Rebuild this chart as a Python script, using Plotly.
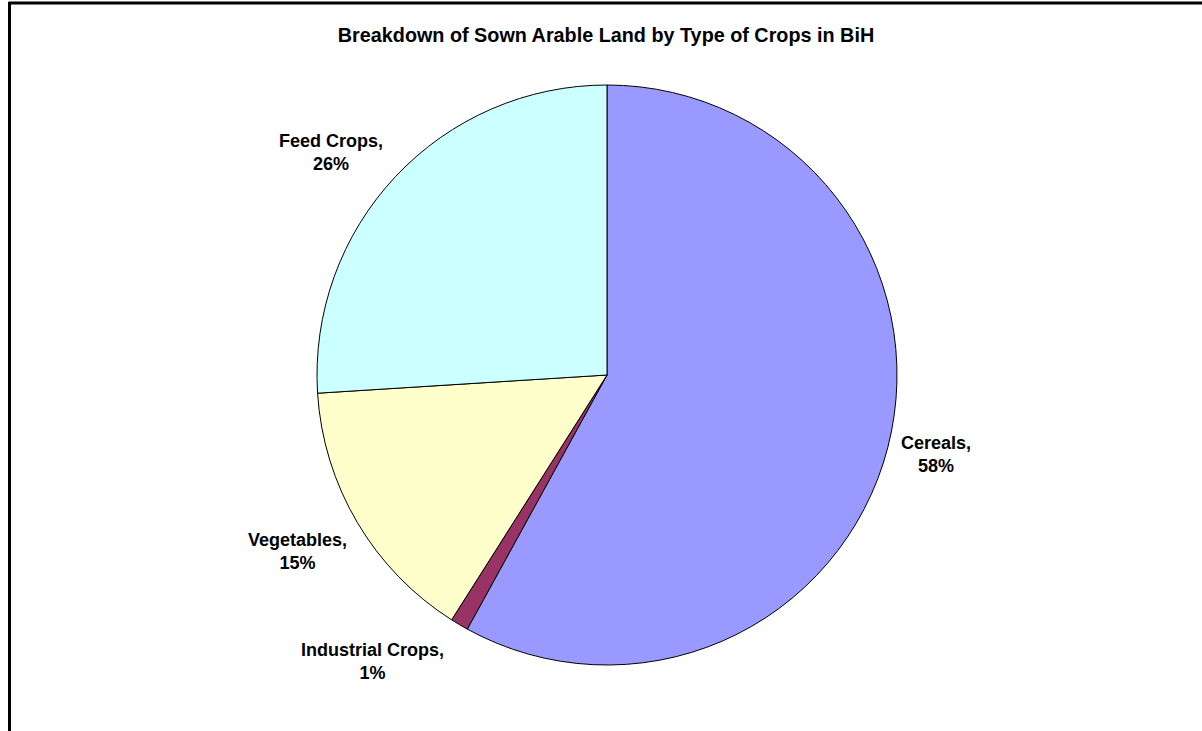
import math
import plotly.graph_objects as go

categories = ["Cereals", "Industrial Crops", "Vegetables", "Feed Crops"]
values = [58, 1, 15, 26]
colors = ["#9999FF", "#993366", "#FFFFCC", "#CCFFFF"]

# label placement styles (radial distance factor, pixel nudges: right, down)
label_radius = [1.173, 1.26, 1.229, 1.222]
label_nudge = [(0, -5), (-48, -28), (-3, -5), (-18, 20)]

W, H = 1202, 731
cx, cy, r = 607, 375, 290
FONT = "Liberation Sans, Arial, Helvetica, sans-serif"

fig = go.Figure(go.Pie(
    labels=categories,
    values=values,
    sort=False,
    direction="clockwise",
    rotation=0,
    marker=dict(colors=colors, line=dict(color="black", width=1)),
    textinfo="none",
    domain=dict(x=[(cx - r) / W, (cx + r) / W], y=[(H - cy - r) / H, (H - cy + r) / H]),
    showlegend=False,
    hoverinfo="label+percent",
    automargin=False,
))

total = sum(values)
annotations = []
cum = 0
for name, v, f, (nx, ny) in zip(categories, values, label_radius, label_nudge):
    mid = (cum + v / 2) / total * 2 * math.pi
    cum += v
    px = cx + f * r * math.sin(mid)
    py = cy - f * r * math.cos(mid)
    annotations.append(dict(
        x=px / W, y=1 - py / H, xref="paper", yref="paper",
        xanchor="center", yanchor="middle", showarrow=False,
        xshift=nx, yshift=-ny,
        text=f"<b>{name},<br>{round(100 * v / total)}%</b>",
        font=dict(family=FONT, size=18, color="black"),
    ))

fig.update_layout(
    width=W, height=H,
    margin=dict(l=0, r=0, t=0, b=0),
    paper_bgcolor="white",
    plot_bgcolor="white",
    title=dict(
        text="<b>Breakdown of Sown Arable Land by Type of Crops in BiH</b>",
        x=606 / W, xanchor="center", y=1 - 35 / H, yanchor="middle",
        font=dict(family=FONT, size=19.8, color="black"),
    ),
    annotations=annotations,
    shapes=[
        dict(type="line", xref="paper", yref="paper", x0=8.5 / W, x1=1, y0=1 - 3 / H, y1=1 - 3 / H,
             line=dict(color="black", width=3)),
        dict(type="line", xref="paper", yref="paper", x0=9.5 / W, x1=9.5 / W, y0=0, y1=1 - 2 / H,
             line=dict(color="black", width=3)),
    ],
)

fig.write_html("out.html", config={"displayModeBar": False},
               post_script="document.body.style.margin='0';document.body.style.overflow='hidden';")
